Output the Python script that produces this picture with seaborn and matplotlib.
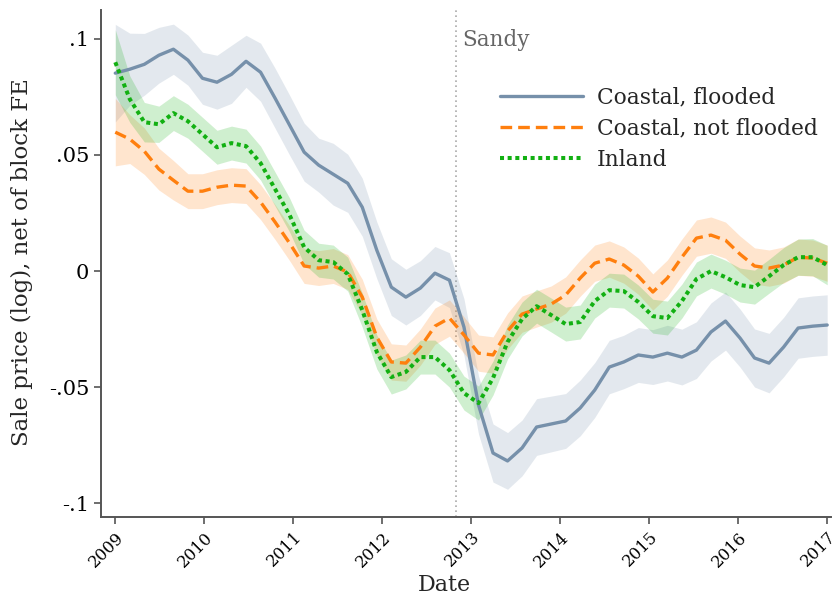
import numpy as np
import pandas as pd
import matplotlib
matplotlib.use("Agg")
import matplotlib.pyplot as plt
import seaborn as sns
from matplotlib.lines import Line2D

# ---- data ----
n_points = 50
dates = np.linspace(2009.0, 2017.0, n_points)

flooded = [0.0852, 0.0869, 0.0890, 0.0929, 0.0955, 0.0908, 0.0830, 0.0813, 0.0847, 0.0903,
           0.0856, 0.0744, 0.0628, 0.0512, 0.0456, 0.0417, 0.0378, 0.0275, 0.0090, -0.0069,
           -0.0112, -0.0073, -0.0009, -0.0039, -0.0241, -0.0576, -0.0783, -0.0817, -0.0761, -0.0671,
           -0.0658, -0.0645, -0.0589, -0.0512, -0.0413, -0.0391, -0.0361, -0.0370, -0.0353, -0.0370,
           -0.0340, -0.0262, -0.0215, -0.0288, -0.0374, -0.0396, -0.0327, -0.0245, -0.0237, -0.0232]
flooded_hw = [0.0210, 0.0155, 0.0133, 0.0120, 0.0108, 0.0108, 0.0112, 0.0116, 0.0125, 0.0112,
              0.0125, 0.0129, 0.0129, 0.0125, 0.0116, 0.0133, 0.0125, 0.0125, 0.0122, 0.0122,
              0.0120, 0.0118, 0.0115, 0.0118, 0.0122, 0.0125, 0.0125, 0.0122, 0.0120, 0.0122,
              0.0120, 0.0118, 0.0120, 0.0118, 0.0115, 0.0115, 0.0118, 0.0118, 0.0120, 0.0120,
              0.0122, 0.0125, 0.0125, 0.0125, 0.0125, 0.0128, 0.0128, 0.0130, 0.0130, 0.0130]

not_flooded = [0.0598, 0.0568, 0.0516, 0.0439, 0.0391, 0.0344, 0.0344, 0.0361, 0.0370, 0.0366,
               0.0297, 0.0211, 0.0120, 0.0022, 0.0013, 0.0022, -0.0004, -0.0112, -0.0284, -0.0391,
               -0.0396, -0.0327, -0.0237, -0.0202, -0.0275, -0.0353, -0.0361, -0.0258, -0.0185, -0.0163,
               -0.0142, -0.0103, -0.0030, 0.0034, 0.0052, 0.0026, -0.0022, -0.0090, -0.0030, 0.0060,
               0.0142, 0.0155, 0.0133, 0.0073, 0.0022, 0.0013, 0.0026, 0.0060, 0.0056, 0.0034]
not_flooded_hw = [0.0145, 0.0105, 0.0100, 0.0090, 0.0085, 0.0075, 0.0075, 0.0075, 0.0075, 0.0075,
                  0.0075, 0.0075, 0.0075, 0.0075, 0.0075, 0.0075, 0.0075, 0.0077, 0.0078, 0.0078,
                  0.0078, 0.0078, 0.0078, 0.0078, 0.0078, 0.0078, 0.0078, 0.0078, 0.0078, 0.0078,
                  0.0078, 0.0078, 0.0078, 0.0078, 0.0078, 0.0078, 0.0078, 0.0078, 0.0078, 0.0078,
                  0.0078, 0.0078, 0.0078, 0.0078, 0.0078, 0.0078, 0.0078, 0.0078, 0.0078, 0.0078]

inland = [0.0899, 0.0740, 0.0641, 0.0632, 0.0680, 0.0645, 0.0589, 0.0533, 0.0551, 0.0538,
          0.0465, 0.0353, 0.0241, 0.0103, 0.0047, 0.0039, -0.0013, -0.0168, -0.0348, -0.0456,
          -0.0434, -0.0370, -0.0370, -0.0426, -0.0525, -0.0568, -0.0460, -0.0305, -0.0206, -0.0151,
          -0.0189, -0.0228, -0.0219, -0.0129, -0.0082, -0.0086, -0.0133, -0.0194, -0.0202, -0.0129,
          -0.0034, 0.0000, -0.0026, -0.0060, -0.0069, -0.0022, 0.0026, 0.0060, 0.0060, 0.0026]
inland_hw = [0.0140, 0.0100, 0.0085, 0.0078, 0.0075, 0.0073, 0.0073, 0.0073, 0.0073, 0.0073,
             0.0073, 0.0073, 0.0073, 0.0073, 0.0073, 0.0073, 0.0073, 0.0073, 0.0073, 0.0073,
             0.0073, 0.0073, 0.0073, 0.0073, 0.0073, 0.0073, 0.0073, 0.0073, 0.0073, 0.0073,
             0.0073, 0.0073, 0.0073, 0.0073, 0.0073, 0.0073, 0.0073, 0.0073, 0.0073, 0.0073,
             0.0073, 0.0073, 0.0073, 0.0073, 0.0073, 0.0073, 0.0075, 0.0078, 0.0080, 0.0085]

series_names = ["Coastal, flooded", "Coastal, not flooded", "Inland"]
series_values = [flooded, not_flooded, inland]
series_hw = [flooded_hw, not_flooded_hw, inland_hw]
colors = ["#7690aa", "#ff7f0e", "#12b012"]

sandy_date = 2012.83
ytick_vals = [0.1, 0.05, 0.0, -0.05, -0.1]
ytick_labels = [".1", ".05", "0", "-.05", "-.1"]
xtick_vals = list(range(2009, 2018))

# ---- figure ----
sns.set_style("ticks")
plt.rcParams["font.family"] = ["DejaVu Serif"]

fig = plt.figure(figsize=(8.33, 5.99), dpi=100)
ax = fig.add_axes([0.1213, 0.137, 0.876, 0.846])

rows = []
for name, vals in zip(series_names, series_values):
    for d, v in zip(dates, vals):
        rows.append({"Date": d, "Value": v, "Series": name})
df = pd.DataFrame(rows)

for name, vals, hw, c in zip(series_names, series_values, series_hw, colors):
    v = np.array(vals)
    h = np.array(hw)
    ax.fill_between(dates, v - h, v + h, color=c, alpha=0.2, linewidth=0)

dash_styles = {series_names[0]: "", series_names[1]: (3.5, 1.8), series_names[2]: (1.0, 0.9)}
sns.lineplot(data=df, x="Date", y="Value", hue="Series", style="Series",
             hue_order=series_names, style_order=series_names,
             palette=dict(zip(series_names, colors)),
             dashes=dash_styles, linewidth=2.4, errorbar=None, ax=ax, legend=False)

for line in ax.lines:
    if line.get_color() == colors[2]:
        line.set_linewidth(2.9)

ax.axvline(sandy_date, color="#aaaaaa", linestyle=(0, (1, 2)), linewidth=1.2, zorder=0)
ax.text(sandy_date + 0.07, 0.0995, "Sandy", color="#666666", fontsize=15.5, ha="left", va="center")

ax.set_xlim(2008.84, 2017.04)
ax.set_ylim(-0.1058, 0.1123)
ax.set_yticks(ytick_vals)
ax.set_yticklabels(ytick_labels, fontsize=15)
ax.set_xticks(xtick_vals)
ax.set_xticklabels([str(x) for x in xtick_vals], rotation=45, ha="right",
                   rotation_mode="anchor", fontsize=11.8)
ax.set_xlabel("Date", fontsize=16)
ax.xaxis.set_label_coords((444 - 101) / 729.7, -0.112)
ax.set_ylabel("Sale price (log), net of block FE", fontsize=16.5)
ax.yaxis.set_label_coords(-0.093, 0.503)

for s in ["top", "right"]:
    ax.spines[s].set_visible(False)
for s in ["left", "bottom"]:
    ax.spines[s].set_color("#555555")
    ax.spines[s].set_linewidth(1.4)
ax.tick_params(axis="both", colors="#555555", labelcolor="black", width=1.2, length=5)

handles = []
for i, (name, c) in enumerate(zip(series_names, colors)):
    ls = ["-", (0, (3.5, 1.8)), (0, (1.0, 0.9))][i]
    lw = [2.4, 2.4, 2.9][i]
    handles.append(Line2D([0], [0], color=c, linestyle=ls, linewidth=lw))
ax.legend(handles, series_names, frameon=False, fontsize=15.7, loc="upper left",
          bbox_to_anchor=(0.547, 0.849), borderaxespad=0, borderpad=0,
          handlelength=3.8, handletextpad=0.63, labelspacing=0.42)

fig.savefig("out.png", dpi=100)
